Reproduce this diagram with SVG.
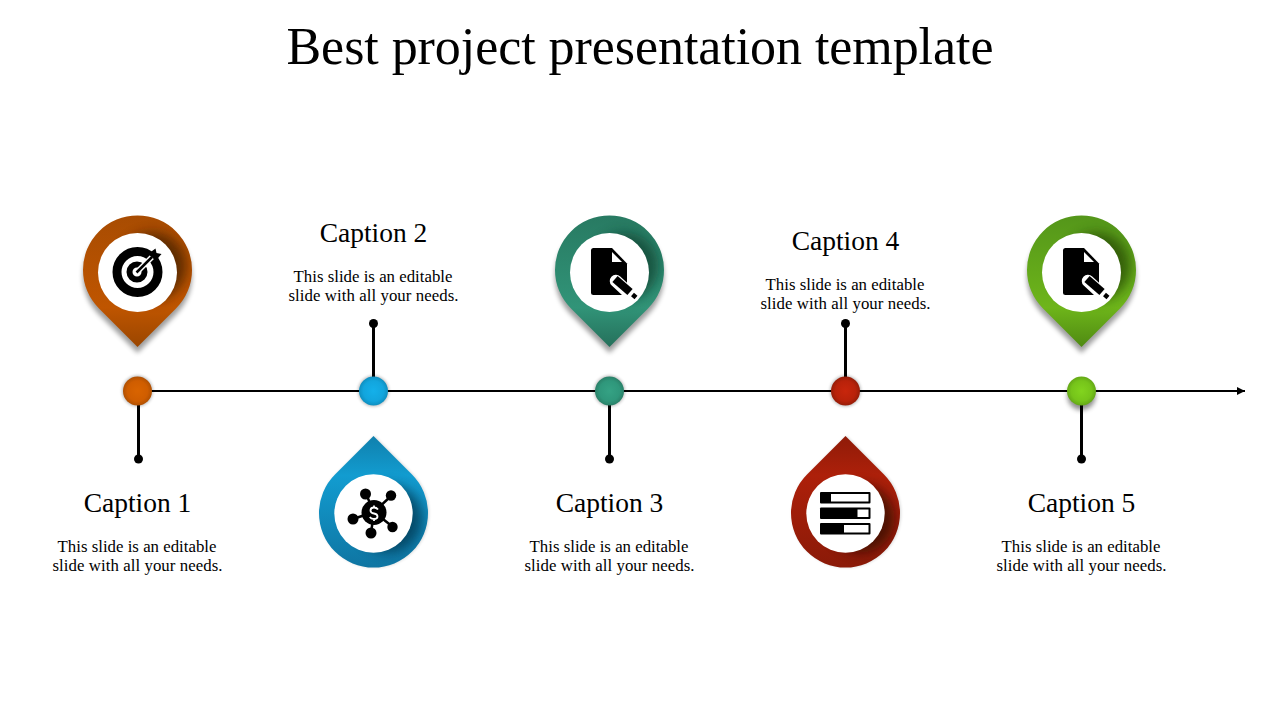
<svg xmlns="http://www.w3.org/2000/svg" width="1280" height="720" viewBox="0 0 1280 720">
<style>
text{font-family:"Liberation Serif","Times New Roman",serif;fill:#000;text-anchor:middle}
.title{font-size:52px}
.cap{font-size:27.500px}
.body{font-size:16.800px}
.stem{stroke:#000;stroke-width:3;fill:none}
.axis{stroke:#000;stroke-width:2;fill:none}
.dot{fill:#000}
.hole{fill:#fff}
</style>
<defs>
<marker id="arrow" markerUnits="userSpaceOnUse" markerWidth="10" markerHeight="10" refX="8" refY="4" orient="auto"><path d="M0 0L8 4L0 8Z" fill="#000"/></marker>
<path id="pinUp" d="M0 77.500L-38.500 39A54.500 54.500 0 1 1 38.500 39Z"/>
<path id="pinDown" d="M0 -77.500L-38.500 -39A54.500 54.500 0 1 0 38.500 -39Z"/>
<clipPath id="clipUp"><use href="#pinUp"/></clipPath>
<clipPath id="clipDown"><use href="#pinDown"/></clipPath>
<filter id="blur" x="-50%" y="-50%" width="200%" height="200%"><feGaussianBlur stdDeviation="6"/></filter>
<filter id="pinShadow" x="-30%" y="-30%" width="160%" height="160%"><feGaussianBlur stdDeviation="2.500"/></filter>
<filter id="nodeShadow" x="-50%" y="-50%" width="200%" height="200%"><feGaussianBlur stdDeviation="1.500"/></filter>
<linearGradient id="gO" x1="0" y1="0" x2="0" y2="1"><stop offset="0" stop-color="#a84c02"/><stop offset=".7" stop-color="#bf5500"/><stop offset="1" stop-color="#9a4600"/></linearGradient>
<linearGradient id="gG" x1="0" y1="0" x2="0" y2="1"><stop offset="0" stop-color="#287a62"/><stop offset=".7" stop-color="#319478"/><stop offset="1" stop-color="#25705b"/></linearGradient>
<linearGradient id="gL" x1="0" y1="0" x2="0" y2="1"><stop offset="0" stop-color="#54961a"/><stop offset=".7" stop-color="#6eb51a"/><stop offset="1" stop-color="#4f8a12"/></linearGradient>
<linearGradient id="gB" x1="0" y1="1" x2="0" y2="0"><stop offset="0" stop-color="#0f75a2"/><stop offset=".7" stop-color="#129cd0"/><stop offset="1" stop-color="#1080ad"/></linearGradient>
<linearGradient id="gR" x1="0" y1="1" x2="0" y2="0"><stop offset="0" stop-color="#8a1a08"/><stop offset=".7" stop-color="#ad200a"/><stop offset="1" stop-color="#8f1b08"/></linearGradient>
<radialGradient id="nO"><stop offset="0" stop-color="#d96400"/><stop offset=".7" stop-color="#cf5d00"/><stop offset="1" stop-color="#b05002"/></radialGradient>
<radialGradient id="nB"><stop offset="0" stop-color="#14b0ea"/><stop offset=".7" stop-color="#12a5dd"/><stop offset="1" stop-color="#0e8fc0"/></radialGradient>
<radialGradient id="nG"><stop offset="0" stop-color="#35a284"/><stop offset=".7" stop-color="#2f977b"/><stop offset="1" stop-color="#2a8068"/></radialGradient>
<radialGradient id="nR"><stop offset="0" stop-color="#c8260c"/><stop offset=".7" stop-color="#b8220a"/><stop offset="1" stop-color="#961d08"/></radialGradient>
<radialGradient id="nL"><stop offset="0" stop-color="#82d41e"/><stop offset=".7" stop-color="#76c41a"/><stop offset="1" stop-color="#64a816"/></radialGradient>
<g id="docIcon">
<path d="M-15.500 -24H3L18 -8.500V20.500Q18 23 15.500 23H-15.500Q-18 23 -18 20.500V-21.500Q-18 -24 -15.500 -24Z" fill="#000"/>
<path d="M3 -20V-10H13Z" fill="#fff"/>
<line x1="7" y1="9" x2="21" y2="22" stroke="#fff" stroke-width="12.500" stroke-linecap="round"/>
<line x1="6" y1="7" x2="21" y2="20" stroke="#000" stroke-width="8"/>
<line x1="23.500" y1="22.500" x2="27" y2="25.500" stroke="#000" stroke-width="4.500"/>
</g>
</defs>
<text class="title" x="640" y="64" textLength="707" lengthAdjust="spacing">Best project presentation template</text>
<g id="connectors">
<line class="axis" x1="137" y1="391" x2="1245" y2="391" marker-end="url(#arrow)"/>
<line class="stem" x1="138.500" y1="405" x2="138.500" y2="459"/><circle class="dot" cx="138.500" cy="459" r="4.500"/>
<line class="stem" x1="373.500" y1="323.500" x2="373.500" y2="378"/><circle class="dot" cx="373.500" cy="323.500" r="4.500"/>
<line class="stem" x1="609.500" y1="405" x2="609.500" y2="459"/><circle class="dot" cx="609.500" cy="459" r="4.500"/>
<line class="stem" x1="845.500" y1="323.500" x2="845.500" y2="378"/><circle class="dot" cx="845.500" cy="323.500" r="4.500"/>
<line class="stem" x1="1081.500" y1="405" x2="1081.500" y2="459"/><circle class="dot" cx="1081.500" cy="459" r="4.500"/>
</g>
<g id="node1">
<circle cx="137.500" cy="391" r="15.500" fill="#000" opacity=".25" filter="url(#nodeShadow)"/><circle cx="137.500" cy="391" r="14.500" fill="url(#nO)"/>
<g transform="translate(137.500 269.500)">
<use href="#pinUp" y="6" fill="#000" opacity=".38" filter="url(#pinShadow)"/>
<use href="#pinUp" fill="url(#gO)"/>
<g clip-path="url(#clipUp)"><circle cx="15" cy="-3" r="34" fill="#3a1a00" opacity=".7" filter="url(#blur)"/></g>
<circle class="hole" cx="0" cy="3" r="39.500"/>
</g>
<g id="icon-target">
<circle cx="137.500" cy="272" r="20.500" fill="none" stroke="#000" stroke-width="9"/>
<circle cx="137" cy="272" r="7.500" fill="none" stroke="#000" stroke-width="6"/>
<path d="M136.500 272.500L152 257" stroke="#fff" stroke-width="5.500" fill="none"/>
<path d="M136.500 272.500L152 257" stroke="#000" stroke-width="2.500" fill="none"/>
<path d="M148 254L155.500 248.500L156.500 253L161.500 254L156 260.500Z" fill="#000"/>
</g>
<text class="cap" x="137.500" y="511.500">Caption 1</text>
<text class="body" x="137" y="551.500" textLength="159" lengthAdjust="spacing">This slide is an editable</text>
<text class="body" x="137.500" y="570.500" textLength="170" lengthAdjust="spacing">slide with all your needs.</text>
</g>
<g id="node2">
<circle cx="373.500" cy="391" r="15.500" fill="#000" opacity=".25" filter="url(#nodeShadow)"/><circle cx="373.500" cy="391" r="14.500" fill="url(#nB)"/>
<g transform="translate(373.500 513.500)">
<use href="#pinDown" x="1" fill="#000" opacity=".15" filter="url(#nodeShadow)"/>
<use href="#pinDown" fill="url(#gB)"/>
<g clip-path="url(#clipDown)"><circle cx="15" cy="5" r="34" fill="#06304a" opacity=".7" filter="url(#blur)"/></g>
<circle class="hole" cx="0" cy="0" r="39.200"/>
</g>
<g id="icon-network">
<path d="M374 512L366 494M374 512L391 496M374 512L353 519M374 512L371 533M374 512L393 527" stroke="#000" stroke-width="2.500" fill="none"/>
<circle cx="374" cy="512.500" r="12.500" fill="#000"/>
<circle cx="365.500" cy="494" r="5.500" fill="#000"/><circle cx="391" cy="495.500" r="5.200" fill="#000"/><circle cx="353" cy="519" r="5.500" fill="#000"/><circle cx="371" cy="533" r="5.500" fill="#000"/><circle cx="392.500" cy="527" r="5.200" fill="#000"/>
<path d="M378 509.500Q376.500 507.500 374 507.500Q370.500 507.500 370.500 510.500Q370.500 513 374 513.500Q377.500 514 377.500 516.500Q377.500 519 374 519Q371 519 369.800 517M374 505.500V507.500M374 519V521" stroke="#fff" stroke-width="1.800" fill="none"/>
</g>
<text class="cap" x="373.500" y="241.500">Caption 2</text>
<text class="body" x="373" y="281.500" textLength="159" lengthAdjust="spacing">This slide is an editable</text>
<text class="body" x="373.500" y="300.500" textLength="170" lengthAdjust="spacing">slide with all your needs.</text>
</g>
<g id="node3">
<circle cx="609.500" cy="391" r="15.500" fill="#000" opacity=".25" filter="url(#nodeShadow)"/><circle cx="609.500" cy="391" r="14.500" fill="url(#nG)"/>
<g transform="translate(609.500 269.500)">
<use href="#pinUp" y="6" fill="#000" opacity=".38" filter="url(#pinShadow)"/>
<use href="#pinUp" fill="url(#gG)"/>
<g clip-path="url(#clipUp)"><circle cx="15" cy="-3" r="34" fill="#0d3a2c" opacity=".65" filter="url(#blur)"/></g>
<circle class="hole" cx="0" cy="3" r="39.500"/>
</g>
<use href="#docIcon" x="609" y="272"/>
<text class="cap" x="609.500" y="511.500">Caption 3</text>
<text class="body" x="609" y="551.500" textLength="159" lengthAdjust="spacing">This slide is an editable</text>
<text class="body" x="609.500" y="570.500" textLength="170" lengthAdjust="spacing">slide with all your needs.</text>
</g>
<g id="node4">
<circle cx="845.500" cy="391" r="15.500" fill="#000" opacity=".25" filter="url(#nodeShadow)"/><circle cx="845.500" cy="391" r="14.500" fill="url(#nR)"/>
<g transform="translate(845.500 513.500)">
<use href="#pinDown" x="1" fill="#000" opacity=".15" filter="url(#nodeShadow)"/>
<use href="#pinDown" fill="url(#gR)"/>
<g clip-path="url(#clipDown)"><circle cx="15" cy="5" r="34" fill="#2a0a02" opacity=".7" filter="url(#blur)"/></g>
<circle class="hole" cx="0" cy="0" r="39.200"/>
</g>
<g id="icon-bars">
<rect x="820" y="492" width="50.500" height="11.500" rx="1" fill="#000"/><rect x="831" y="494" width="37.500" height="7.500" fill="#fff"/>
<rect x="820" y="507.500" width="50.500" height="11.500" rx="1" fill="#000"/><rect x="857.500" y="509.500" width="11" height="7.500" fill="#fff"/>
<rect x="820" y="523" width="50.500" height="11.500" rx="1" fill="#000"/><rect x="844" y="525" width="24.500" height="7.500" fill="#fff"/>
</g>
<text class="cap" x="845.500" y="249.500">Caption 4</text>
<text class="body" x="845" y="289.500" textLength="159" lengthAdjust="spacing">This slide is an editable</text>
<text class="body" x="845.500" y="308.500" textLength="170" lengthAdjust="spacing">slide with all your needs.</text>
</g>
<g id="node5">
<circle cx="1081.500" cy="396" r="14" fill="#000" opacity=".45" filter="url(#pinShadow)"/><circle cx="1081.500" cy="391" r="14.500" fill="url(#nL)"/>
<g transform="translate(1081.500 269.500)">
<use href="#pinUp" y="6" fill="#000" opacity=".38" filter="url(#pinShadow)"/>
<use href="#pinUp" fill="url(#gL)"/>
<g clip-path="url(#clipUp)"><circle cx="15" cy="-3" r="34" fill="#1f3a05" opacity=".65" filter="url(#blur)"/></g>
<circle class="hole" cx="0" cy="3" r="39.500"/>
</g>
<use href="#docIcon" x="1081" y="272"/>
<text class="cap" x="1081.500" y="511.500">Caption 5</text>
<text class="body" x="1081" y="551.500" textLength="159" lengthAdjust="spacing">This slide is an editable</text>
<text class="body" x="1081.500" y="570.500" textLength="170" lengthAdjust="spacing">slide with all your needs.</text>
</g>
</svg>
